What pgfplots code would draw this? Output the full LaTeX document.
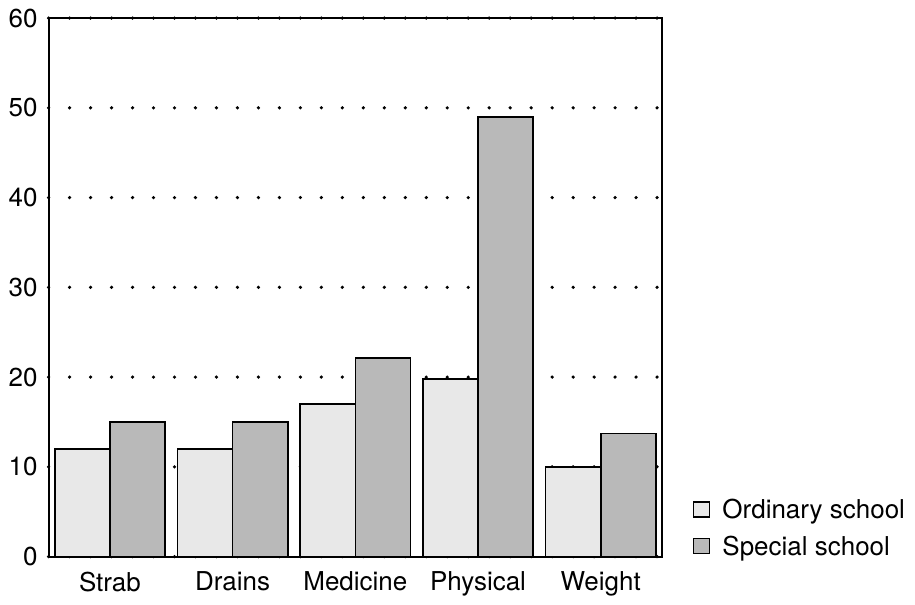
\documentclass[border=0pt]{standalone}
\usepackage{fontspec}
\setmainfont{TeX Gyre Heros}
\usepackage{pgfplots}
\pgfplotsset{compat=1.18}
\begin{document}
\fontsize{13}{15}\selectfont
\begin{tikzpicture}
\begin{axis}[
  name=ax,
  scale only axis,
  width=307pt, height=269.5pt,
  xmin=-0.5, xmax=4.5,
  ymin=0, ymax=60,
  ytick={0,10,20,30,40,50,60},
  xtick={0,1,2,3,4},
  xticklabels={Strab,Drains,Medicine,Physical,Weight},
  major tick length=0pt,
  axis line style={line width=1pt},
  ymajorgrids,
  major grid style={black, line width=1.8pt, dash pattern=on 0pt off 10.5pt, line cap=round},
  /pgf/number format/assume math mode=true,
  tick label style={font=\fontsize{13}{15}\selectfont},
  yticklabel style={xshift=-1pt},
  xticklabel style={yshift=-3pt},
  ybar, bar width=0.45,
  legend style={draw=none, fill=none, at={(1.04,-0.02)}, anchor=south west,
     font=\fontsize{13}{15}\selectfont, row sep=2.5pt, cells={anchor=west}},
  legend cell align=left,
  legend image code/.code={\draw[#1, line width=0.7pt] (0pt,-3pt) rectangle (8pt,4.5pt); \path (12pt,0pt);},
]
\addplot[draw=black, line width=0.8pt, fill=gray!18, bar shift=-0.225] coordinates {(0,12) (1,12) (2,17) (3,19.8) (4,10)};
\addplot[draw=black, line width=0.8pt, fill=gray!55, bar shift=0.225] coordinates {(0,15) (1,15) (2,22.1) (3,49) (4,13.7)};
\legend{Ordinary school, Special school}
\end{axis}
\path ([xshift=-24pt,yshift=-22pt]ax.south west) rectangle ([xshift=433.5pt,yshift=7pt]ax.north west);
\end{tikzpicture}
\end{document}
